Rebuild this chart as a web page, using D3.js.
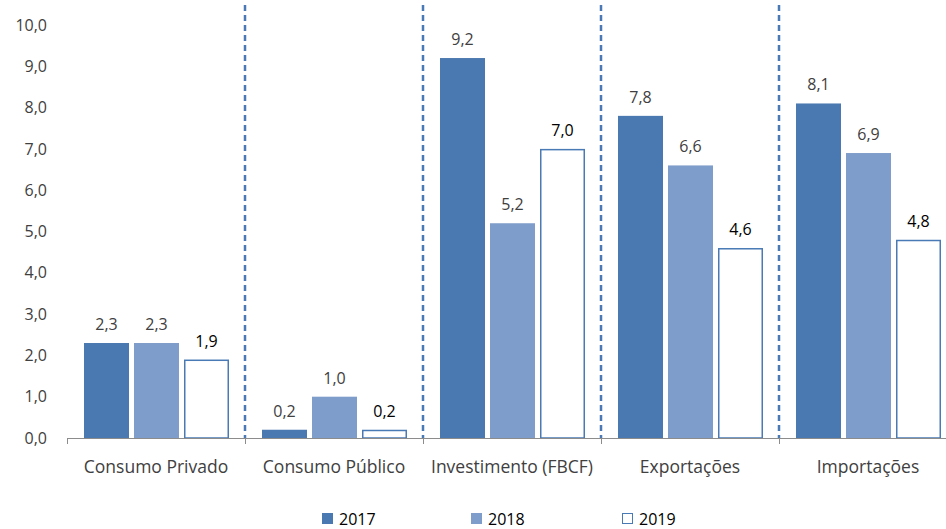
<!DOCTYPE html>
<html>
<head>
<meta charset="utf-8">
<script src="https://cdn.jsdelivr.net/npm/d3@7"></script>
<style>
  body { margin: 0; background: #fff; }
  svg text { font-family: "Open Sans", "Noto Sans", sans-serif; }
</style>
</head>
<body>
<div id="chart"></div>
<script>
// Data
const categories = ['Consumo Privado', 'Consumo Público', 'Investimento (FBCF)', 'Exportações', 'Importações'];
const years = ['2017', '2018', '2019'];
const values2017 = [2.3, 0.2, 9.2, 7.8, 8.1];
const values2018 = [2.3, 1.0, 5.2, 6.6, 6.9];
const values2019 = [1.9, 0.2, 7.0, 4.6, 4.8];
const yTicks = [0, 1, 2, 3, 4, 5, 6, 7, 8, 9, 10];

const series = [values2017, values2018, values2019];
const width = 946, height = 529;
const left = 67, groupW = 178;

const svg = d3.select('#chart').append('svg')
  .attr('width', width).attr('height', height);

const x = d3.scaleBand()
  .domain(categories)
  .range([left, left + groupW * categories.length])
  .paddingInner(0).paddingOuter(0);

const xInner = d3.scaleBand()
  .domain(years)
  .range([17, 17 + 145])
  .paddingInner(0.1);

const y = d3.scaleLinear().domain([0, 10]).range([438, 25]);

const fill = { '2017': '#4a78b0', '2018': '#7f9dca', '2019': '#ffffff' };
const stroke = { '2017': 'none', '2018': 'none', '2019': '#4a7ab5' };
const fmt = v => d3.format('.1f')(v).replace('.', ',');

// Y tick labels
svg.append('g').selectAll('text').data(yTicks).join('text')
  .attr('x', 47).attr('y', d => y(d)).attr('dy', '0.35em')
  .attr('text-anchor', 'end').attr('font-size', '16px').attr('fill', '#404040')
  .text(fmt);

// Bars
series.forEach((vals, si) => {
  const yr = years[si];
  const g = svg.append('g');
  g.selectAll('rect').data(vals).join('rect')
    .attr('x', (d, i) => x(categories[i]) + xInner(yr) + (yr === '2019' ? 0.75 : 0))
    .attr('y', d => y(d) + (yr === '2019' ? 0.75 : 0))
    .attr('width', xInner.bandwidth() - (yr === '2019' ? 1.5 : 0))
    .attr('height', d => y(0) - y(d) - (yr === '2019' ? 0.75 : 0))
    .attr('fill', fill[yr])
    .attr('stroke', stroke[yr])
    .attr('stroke-width', 1.5);
  g.selectAll('text').data(vals).join('text')
    .attr('x', (d, i) => x(categories[i]) + xInner(yr) + xInner.bandwidth() / 2)
    .attr('y', d => y(d) - 13)
    .attr('text-anchor', 'middle').attr('font-size', '16px')
    .attr('fill', yr === '2019' ? '#000' : '#404040')
    .text(fmt);
});

// Dashed separators
svg.append('g').selectAll('line').data(categories.slice(1)).join('line')
  .attr('x1', d => x(d)).attr('x2', d => x(d))
  .attr('y1', 5).attr('y2', 438)
  .attr('stroke', '#4a7ab5').attr('stroke-width', 2.5)
  .attr('stroke-dasharray', '6,4');

// X axis
const xAxis = svg.append('g');
xAxis.append('line')
  .attr('x1', left).attr('x2', left + groupW * categories.length)
  .attr('y1', 438.5).attr('y2', 438.5)
  .attr('stroke', '#8c8c8c').attr('stroke-width', 1);
xAxis.selectAll('line.tick').data(categories.concat(['end'])).join('line')
  .attr('class', 'tick')
  .attr('x1', (d, i) => left + groupW * i + 0.5).attr('x2', (d, i) => left + groupW * i + 0.5)
  .attr('y1', 438).attr('y2', 444)
  .attr('stroke', '#8c8c8c');
xAxis.selectAll('text').data(categories).join('text')
  .attr('x', d => x(d) + x.bandwidth() / 2)
  .attr('y', 467).attr('dy', '0.35em')
  .attr('text-anchor', 'middle').attr('font-size', '17.5px').attr('fill', '#404040')
  .text(d => d);

// Legend
const legendX = [322, 471, 622];
const legend = svg.append('g');
years.forEach((yr, i) => {
  legend.append('rect')
    .attr('x', legendX[i] + (yr === '2019' ? 0.5 : 0)).attr('y', 513 + (yr === '2019' ? 0.5 : 0))
    .attr('width', yr === '2019' ? 10 : 11).attr('height', yr === '2019' ? 10 : 11)
    .attr('fill', fill[yr]).attr('stroke', stroke[yr]).attr('stroke-width', 1);
  legend.append('text')
    .attr('x', legendX[i] + 17).attr('y', 519).attr('dy', '0.35em')
    .attr('font-size', '16px').attr('fill', '#000')
    .text(yr);
});
</script>
</body>
</html>
